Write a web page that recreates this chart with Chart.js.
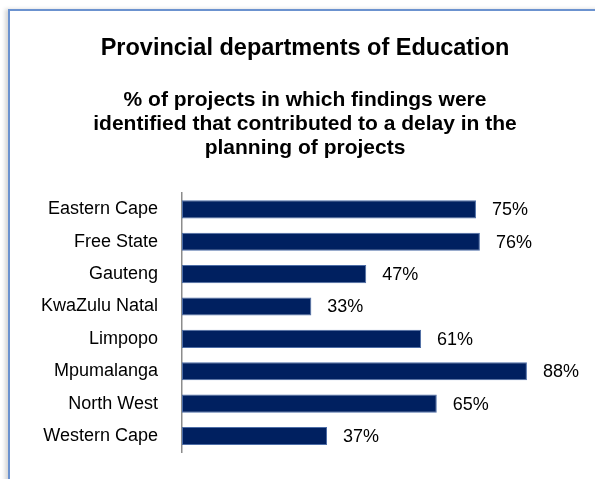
<!DOCTYPE html>
<html>
<head>
<meta charset="utf-8">
<script src="https://cdn.jsdelivr.net/npm/chart.js@4.4.1/dist/chart.umd.min.js"></script>
<style>
  html, body { margin: 0; padding: 0; background: #fff; }
  #wrap { position: relative; width: 595px; height: 479px; overflow: hidden; }
  /* panel frame: top + left edge only */
  #frame {
    position: absolute; left: 8px; top: 9px; width: 700px; height: 600px;
    border-top: 2px solid #6b92cf; border-left: 2px solid #6b92cf;
    box-shadow: -3px 0 4px rgba(0,0,0,0.16);
  }
  canvas { position: absolute; left: 0; top: 0; }
</style>
</head>
<body>
<div id="wrap">
  <div id="frame"></div>
  <canvas id="chart" width="595" height="479"></canvas>
</div>
<script>
// ==== data ====
const provinces = ['Eastern Cape', 'Free State', 'Gauteng', 'KwaZulu Natal', 'Limpopo', 'Mpumalanga', 'North West', 'Western Cape'];
const delayPct = [75, 76, 47, 33, 61, 88, 65, 37];
const titleText = 'Provincial departments of Education';
const subtitleLines = ['% of projects in which findings were', 'identified that contributed to a delay in the', 'planning of projects'];

const FONT = "'Liberation Sans', Arial, sans-serif";

// value labels at the end of each bar
const barValueLabels = {
  id: 'barValueLabels',
  afterDatasetsDraw(chart) {
    const ctx = chart.ctx;
    const meta = chart.getDatasetMeta(0);
    ctx.save();
    ctx.font = '18px ' + FONT;
    ctx.fillStyle = '#000';
    ctx.textAlign = 'left';
    ctx.textBaseline = 'middle';
    meta.data.forEach((bar, i) => {
      ctx.fillText(delayPct[i] + '%', bar.x + 16, bar.y + 1);
    });
    ctx.restore();
  }
};

new Chart(document.getElementById('chart').getContext('2d'), {
  type: 'bar',
  data: {
    labels: provinces,
    datasets: [{
      data: delayPct,
      backgroundColor: '#002060',
      borderColor: '#4d6da6',
      borderWidth: 1,
      borderSkipped: false,
      categoryPercentage: 1,
      barPercentage: 0.56
    }]
  },
  options: {
    indexAxis: 'y',
    responsive: false,
    animation: false,
    // left padding pushes the titles' centre to the right; y axis width makes up for it
    layout: { padding: { top: 0, right: 23, bottom: 26, left: 38 } },
    plugins: {
      legend: { display: false },
      tooltip: { enabled: false },
      title: {
        display: true,
        text: titleText,
        color: '#000',
        font: { family: FONT, size: 23.5, weight: 'bold', lineHeight: 1.2 },
        padding: { top: 34, bottom: 26 }
      },
      subtitle: {
        display: true,
        text: subtitleLines,
        color: '#000',
        font: { family: FONT, size: 21, weight: 'bold', lineHeight: '24px' },
        padding: { top: 0, bottom: 33 }
      }
    },
    scales: {
      x: {
        display: false,
        min: 0,
        max: 99.5
      },
      y: {
        afterFit(scale) { scale.width = 144; },
        grid: { display: false },
        border: { display: true, color: '#8c8c8c', width: 1.5 },
        ticks: {
          color: '#000',
          padding: 16,
          font: { family: FONT, size: 18 }
        }
      }
    }
  },
  plugins: [barValueLabels]
});
</script>
</body>
</html>
